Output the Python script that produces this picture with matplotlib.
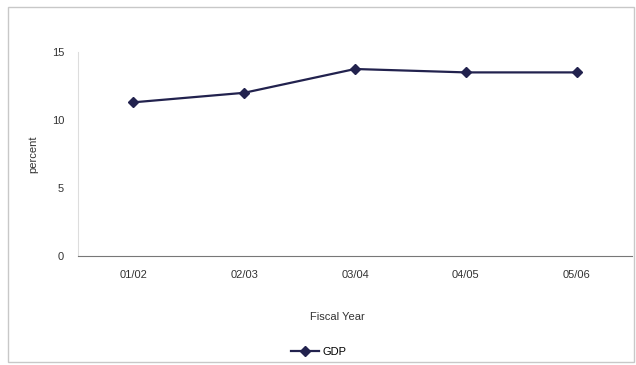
import numpy as np
import matplotlib.pyplot as plt
from matplotlib.patches import Rectangle

# data
years = ['01/02', '02/03', '03/04', '04/05', '05/06']
gdp = [11.3, 12.0, 13.75, 13.5, 13.5]

plt.rcParams['font.family'] = ['Liberation Sans', 'DejaVu Sans']

fig = plt.figure(figsize=(6.36, 3.65), dpi=100)
ax = fig.add_axes([78/636, 109/365, 554/636, 204/365])

# outer frame
fig.patches.append(Rectangle((8/636, 3/365), 626/636, 355/365, transform=fig.transFigure,
                             fill=False, edgecolor='#c8c8c8', linewidth=1))

x = np.arange(len(years))
ax.plot(x, gdp, color='#22224e', marker='D', markersize=5, linewidth=1.6, label='GDP')

ax.set_xlim(-0.5, 4.5)
ax.set_ylim(0, 15)
ax.set_yticks([0, 5, 10, 15])
ax.set_xticks(x)
ax.set_xticklabels(years)
ax.tick_params(axis='both', length=0, labelsize=8, colors='#333333')
ax.tick_params(axis='x', pad=10)
ax.tick_params(axis='y', pad=10)

for s in ['top', 'right']:
    ax.spines[s].set_visible(False)
ax.spines['left'].set_color('#dddddd')
ax.spines['bottom'].set_color('#777777')

ax.set_ylabel('percent', fontsize=8, color='#333333', labelpad=10)
ax.set_xlabel('Fiscal Year', fontsize=8, color='#333333')
ax.xaxis.set_label_coords(0.4675, -0.275)

ax.legend(loc='upper center', bbox_to_anchor=(0.435, -0.395), frameon=False, fontsize=8,
          handlelength=2.5, handletextpad=0.3)

fig.savefig('out.png', dpi=100)
